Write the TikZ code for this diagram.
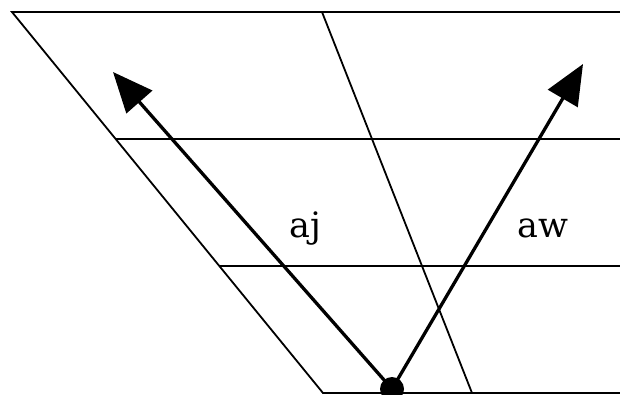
\documentclass[tikz,border=0pt]{standalone}
\usepackage{fontspec}
\setmainfont{DejaVu Serif}
\usetikzlibrary{arrows.meta}
\tikzset{
  gridline/.style={line width=1.8pt, black},
  vec/.style={line width=3.3pt, black, -{Triangle[length=40pt,width=34pt]}},
  lbl/.style={font=\fontsize{35}{40}\selectfont, inner sep=0pt, anchor=base},
  dotnode/.style={circle, fill=black, inner sep=0pt, minimum size=24pt}
}
\begin{document}
\begin{tikzpicture}[x=1pt,y=-1pt]
\useasboundingbox (0,0) rectangle (620,394);
% corner coordinates
\coordinate (tl) at (12,12);
\coordinate (tr) at (620,12);
\coordinate (bl) at (323,393);
\coordinate (br) at (620,393);
\coordinate (m1l) at (115.6,139);
\coordinate (m1r) at (620,139);
\coordinate (m2l) at (219,266);
\coordinate (m2r) at (620,266);
\coordinate (ct) at (322,12);
\coordinate (cb) at (472,393);
\coordinate (tipaj) at (113,72);
\coordinate (tipaw) at (583,64);
% grid
\draw[gridline] (tr) -- (tl) -- (bl) -- (br);
\draw[gridline] (m1l) -- (m1r);
\draw[gridline] (m2l) -- (m2r);
\draw[gridline] (ct) -- (cb);
% origin dot
\node[dotnode] (o) at (392,389) {};
% vectors
\draw[vec] (o.center) -- (tipaj);
\draw[vec] (o.center) -- (tipaw);
% labels
\node[lbl] (laj) at (305,237) {aj};
\node[lbl] (law) at (543,237) {aw};
\end{tikzpicture}
\end{document}
